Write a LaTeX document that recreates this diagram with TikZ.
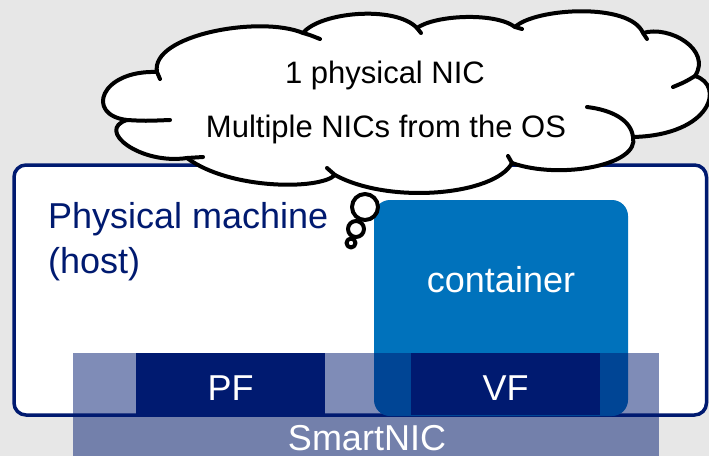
\documentclass[tikz,border=0pt]{standalone}
\usepackage{fontspec}
\setmainfont{Liberation Sans}
\definecolor{navy}{RGB}{0,26,112}
\definecolor{cblue}{RGB}{0,114,188}
\definecolor{bggray}{RGB}{231,231,231}

\begin{document}
\begin{tikzpicture}[x=1pt,y=-1pt,
  bigtext/.style={font=\fontsize{36}{44}\selectfont, inner sep=0pt},
  cloudtext/.style={font=\fontsize{31}{38}\selectfont, inner sep=0pt, text=black},
  cloudline/.style={line width=4pt, draw=black, line cap=round, line join=round},
  hostframe/.style={draw=navy, line width=3.5pt, fill=white, rounded corners=12pt},
  fnbox/.style={fill=navy}]
\useasboundingbox (0,0) rectangle (709,456);
\fill[bggray] (0,0) rectangle (709,456);

% host machine frame
\draw[hostframe] (14,165) rectangle (706.5,415);

% container
\fill[cblue, rounded corners=16pt] (374,200) rectangle (628,416);

% SmartNIC band (translucent) with PF and VF
\fill[navy, fill opacity=0.5] (73,353) rectangle (659,456);
\fill[fnbox] (136,353) rectangle (325,415);
\fill[fnbox] (411,353) rectangle (600,415);

% labels
\node[bigtext, text=navy, anchor=base west] (hostA) at (48,228) {Physical machine};
\node[bigtext, text=navy, anchor=base west] (hostB) at (48,273) {(host)};
\node[bigtext, text=white, anchor=base] (cont) at (501,292) {container};
\node[bigtext, text=white, anchor=base] (pf) at (230.5,400) {PF};
\node[bigtext, text=white, anchor=base] (vf) at (505.5,400) {VF};
\node[bigtext, text=white, anchor=base] (nic) at (367,450.5) {SmartNIC};

% thought cloud
\path[cloudline, fill=white] (157,72)
  .. controls (150,35) and (260,15) .. (303,33)
  .. controls (320,12) and (395,5) .. (417,28)
  .. controls (435,15) and (495,12) .. (515,27)
  .. controls (535,8) and (630,2) .. (643,33)
  .. controls (670,25) and (712,50) .. (695,76)
  .. controls (725,85) and (712,135) .. (633,137)
  .. controls (640,165) and (560,180) .. (512,163)
  .. controls (495,195) and (390,205) .. (335,175)
  .. controls (320,190) and (230,190) .. (187,158)
  .. controls (140,165) and (95,130) .. (127,120)
  .. controls (85,115) and (100,70) .. cycle;
% inner lobe ends
\draw[cloudline] (157,72) -- (160,79);
\draw[cloudline] (303,33) .. controls (310,35) .. (320,39);
\draw[cloudline] (417,28) -- (421,33);
\draw[cloudline] (515,27) -- (522,29);
\draw[cloudline] (643,33) -- (647,39);
\draw[cloudline] (695,76) .. controls (685,82) .. (673,87);
\draw[cloudline] (633,137) .. controls (631,120) and (612,110) .. (587,107);
\draw[cloudline] (512,163) -- (508,156);
\draw[cloudline] (335,175) -- (327,168);
\draw[cloudline] (187,158) -- (203,157);
\draw[cloudline] (127,120) .. controls (145,121) .. (170,120);

% trailing bubbles
\filldraw[cloudline, fill=white] (365,207) circle[radius=13pt];
\filldraw[cloudline, fill=white] (356,229) circle[radius=8pt];
\filldraw[cloudline, fill=white] (351,243) circle[radius=4.5pt];

\node[cloudtext, anchor=base] (think1) at (385,83) {1 physical NIC};
\node[cloudtext, anchor=base] (think2) at (386,137) {Multiple NICs from the OS};
\end{tikzpicture}
\end{document}
